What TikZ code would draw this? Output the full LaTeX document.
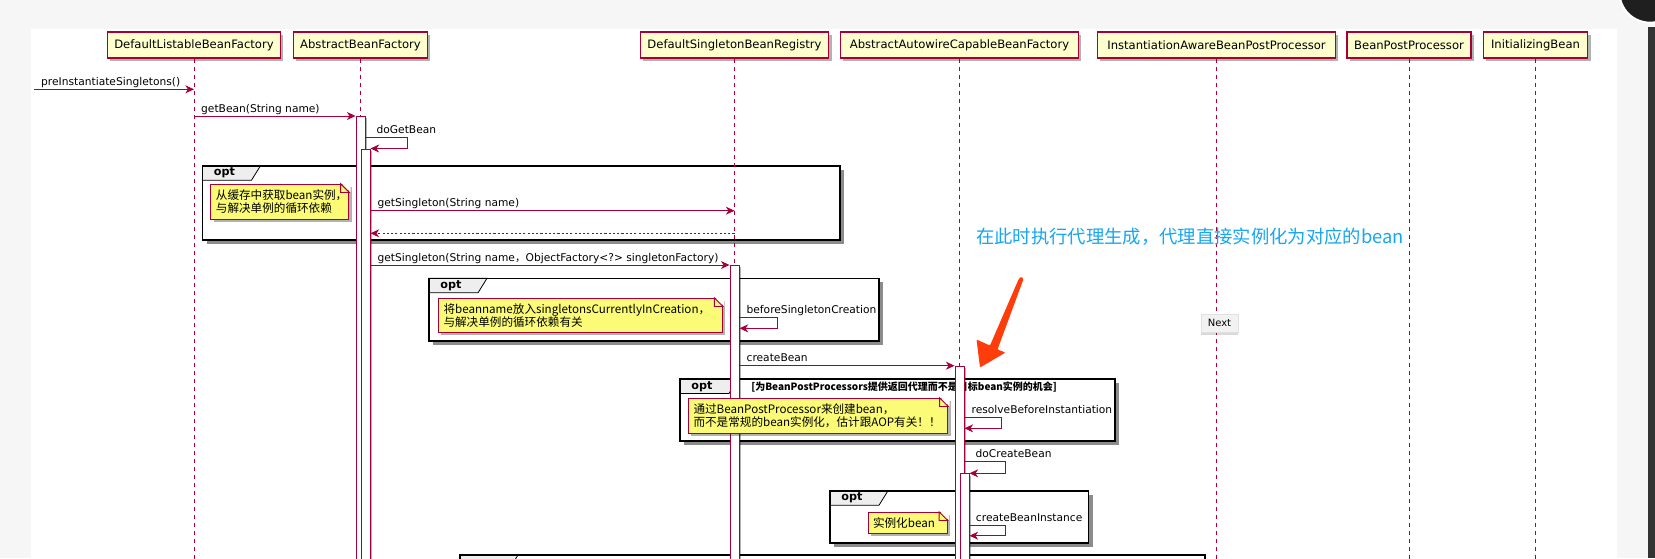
\documentclass[tikz,border=0pt]{standalone}
\usepackage{fontspec}
\setmainfont{DejaVu Sans}
\newfontfamily\cjk{Noto Sans CJK SC}
\usepackage{tikz}
\usetikzlibrary{arrows.meta, positioning, shadows, calc}

\definecolor{umlred}{HTML}{A80036}
\definecolor{partfill}{HTML}{FEFECE}
\definecolor{notefill}{HTML}{FBFB77}
\definecolor{tabgray}{HTML}{EEEEEE}
\definecolor{pagegray}{HTML}{F6F6F6}
\definecolor{hintblue}{HTML}{17A6F0}
\definecolor{arrowred}{HTML}{FF3D0A}

\tikzset{
  participant/.style={rectangle, draw=umlred, line width=0.9pt, fill=partfill,
                      minimum height=19.5pt, inner sep=0pt, font=\fontsize{8.7}{10}\selectfont,
                      drop shadow={shadow xshift=2.2pt, shadow yshift=-2.2pt, fill=black, opacity=0.3}},
  lifeline/.style={draw=umlred, line width=0.7pt, dash pattern=on 3.5pt off 2.5pt},
  bar/.style={rectangle, draw=umlred, fill=white, line width=0.7pt, minimum width=6.75pt,
              inner sep=0pt, anchor=north,
              drop shadow={shadow xshift=1.5pt, shadow yshift=-1.5pt, fill=black, opacity=0.3}},
  msg/.style={draw=umlred, line width=0.75pt, -{Stealth[length=6.5pt, width=6pt, inset=2pt]}},
  reply/.style={msg, dash pattern=on 1.6pt off 1.6pt},
  msglabel/.style={anchor=base west, inner sep=0pt, yshift=3pt, font=\fontsize{8}{9}\selectfont},
  frame/.style={draw=black, line width=1.2pt},
  tab/.style={draw=black, line width=0.6pt, fill=tabgray},
  optlabel/.style={inner sep=0pt, font=\bfseries\fontsize{8.4}{10}\selectfont},
  guard/.style={anchor=west, inner sep=0pt, font=\cjk\bfseries\fontsize{7.5}{9}\selectfont},
  note/.style={rectangle, draw=umlred, fill=notefill, line width=0.7pt, align=left,
               inner xsep=3.75pt, inner ysep=0pt, font=\cjk\fontsize{8.7}{10}\selectfont,
               drop shadow={shadow xshift=2.2pt, shadow yshift=-2.2pt, fill=black, opacity=0.3}},
  hint/.style={anchor=west, inner sep=0pt, text=hintblue, font=\cjk\fontsize{13.75}{16}\selectfont},
  nextbtn/.style={rectangle, draw=black!12, fill=black!5, minimum width=27.75pt, minimum height=14pt,
                  inner sep=0pt, font=\fontsize{7.5}{9}\selectfont,
                  drop shadow={shadow xshift=0pt, shadow yshift=-1.5pt, fill=black, opacity=0.15}}
}

% opt frame: name, x0, y0, x1, y1, label
\newcommand{\optframe}[6]{%
  \fill[black!45] (#2+4,#3+4) rectangle (#4+4,#5+4);
  \fill[white] (#2,#3) rectangle (#4,#5);
  \filldraw[tab] (#2,#3) -- (#2+58,#3) -- (#2+49,#3+14.5) -- (#2,#3+14.5) -- cycle;
  \draw[frame] (#2,#3) rectangle (#4,#5);
  \node[optlabel] (#1) at (#2+22,#3+7.5) {#6};
}
% folded corner of a note
\newcommand{\notefold}[1]{%
  \fill[white] ([xshift=-6.5pt, yshift=1pt]#1.north east) -- ([xshift=1pt, yshift=1pt]#1.north east)
    -- ([xshift=1pt, yshift=-6.5pt]#1.north east) -- cycle;
  \draw[umlred, line width=0.7pt] ([xshift=-6.5pt]#1.north east) -- ([xshift=-6.5pt, yshift=-6.5pt]#1.north east)
    -- ([yshift=-6.5pt]#1.north east) -- cycle;
}

\begin{document}
\begin{tikzpicture}[x=0.75pt, y=-0.75pt]
  \useasboundingbox (0,0) rectangle (1655,558);
  \clip (0,0) rectangle (1655,558);

  % Window
  \fill[pagegray] (0,0) rectangle (1655,558);
  \fill[white] (31,29) rectangle (1617,558);
  \fill[black!80] (1648,27) rectangle (1655,558);
  \filldraw[fill=black!88, draw=white, line width=1.5pt] (1650,-8) circle[radius=23pt];

  % Message heights
  \coordinate (entry) at (34,89.3);
  \coordinate (m2) at (0,116);
  \coordinate (m3a) at (0,137);
  \coordinate (m3b) at (0,148.5);
  \coordinate (m4) at (0,210.7);
  \coordinate (m5) at (0,233.3);
  \coordinate (m6) at (0,265);
  \coordinate (m7a) at (0,317.7);
  \coordinate (m7b) at (0,328.3);
  \coordinate (m8) at (0,365.7);
  \coordinate (m9a) at (0,417.7);
  \coordinate (m9b) at (0,428.3);
  \coordinate (m10a) at (0,461.7);
  \coordinate (m10b) at (0,473.3);
  \coordinate (m11a) at (0,525);
  \coordinate (m11b) at (0,535.7);
  \coordinate (bottom) at (0,560);

  % Frames
  \optframe{f1}{202.5}{165.7}{840}{240}{opt}
  \optframe{f2}{429}{278.3}{879}{340.7}{opt}
  \optframe{f3}{680}{379}{1115}{441}{opt}
  \optframe{f4}{830}{490.7}{1088.6}{542.7}{opt}
  \optframe{f5}{460}{555}{1205}{620}{}
  \node[guard] (g3) at (751,386.7) {[为BeanPostProcessors提供返回代理而不是目标bean实例的机会]};

  % Participants
  \node[participant, minimum width=129.75pt] (dlbf) at (194,45) {DefaultListableBeanFactory};
  \node[participant, minimum width=100.5pt] (abf) at (360.5,45) {AbstractBeanFactory};
  \node[participant, minimum width=141.4pt] (dsbr) at (734.5,45) {DefaultSingletonBeanRegistry};
  \node[participant, minimum width=178.5pt] (aacbf) at (959.5,45) {AbstractAutowireCapableBeanFactory};
  \node[participant, minimum width=178.5pt] (iabpp) at (1216.5,45) {InstantiationAwareBeanPostProcessor};
  \node[participant, minimum width=93pt] (bpp) at (1409,45) {BeanPostProcessor};
  \node[participant, minimum width=78.4pt] (ib) at (1535.5,45) {InitializingBean};

  % Lifelines
  \foreach \p in {dlbf,abf,dsbr,aacbf,iabpp,bpp,ib}
    \draw[lifeline] (\p.south) -- (\p |- bottom);

  % Activations
  \node[bar, minimum height=333pt] (abf1) at (abf |- m2) {};
  \node[bar, minimum height=308.6pt] (abf2) at ($(abf |- m3b)+(5,0)$) {};
  \node[bar, minimum height=221.25pt] (dsbr1) at (dsbr |- m6) {};
  \node[bar, minimum height=145.7pt] (aacbf1) at (aacbf |- m8) {};
  \node[bar, minimum height=65pt] (aacbf2) at ($(aacbf |- m10b)+(5,0)$) {};

  % Messages
  \draw[msg] (entry) node[msglabel, xshift=5pt] (l1) {preInstantiateSingletons()} -- (dlbf |- entry);
  \draw[msg] (dlbf |- m2) node[msglabel, xshift=5pt] (l2) {getBean(String name)} -- (abf1.west |- m2);
  \draw[msg] (abf1.east |- m3a) node[msglabel, xshift=8pt] (l3) {doGetBean} -- ++(42,0) |- (abf2.east |- m3b);
  \draw[msg] (abf2.east |- m4) node[msglabel, xshift=5pt] (l4) {getSingleton(String name)} -- (dsbr |- m4);
  \draw[reply] (dsbr |- m5) -- (abf2.east |- m5);
  \draw[msg] (abf2.east |- m6) node[msglabel, xshift=5pt] (l6) {getSingleton(String name{\cjk ，}ObjectFactory<?> singletonFactory)} -- (dsbr1.west |- m6);
  \draw[msg] (dsbr1.east |- m7a) node[msglabel, xshift=5pt] (l7) {beforeSingletonCreation} -- ++(38,0) |- (dsbr1.east |- m7b);
  \draw[msg] (dsbr1.east |- m8) node[msglabel, xshift=5pt] (l8) {createBean} -- (aacbf1.west |- m8);
  \draw[msg] (aacbf1.east |- m9a) node[msglabel, xshift=5pt] (l9) {resolveBeforeInstantiation} -- ++(37,0) |- (aacbf1.east |- m9b);
  \draw[msg] (aacbf1.east |- m10a) node[msglabel, xshift=8pt] (l10) {doCreateBean} -- ++(41.4,0) |- (aacbf2.east |- m10b);
  \draw[msg] (aacbf2.east |- m11a) node[msglabel, xshift=4.5pt] (l11) {createBeanInstance} -- ++(36.4,0) |- (aacbf2.east |- m11b);

  % Notes
  \node[note, text width=96pt, minimum height=26.25pt] (n1) at (279.9,201.8) {从缓存中获取bean实例，\\与解决单例的循环依赖};
  \notefold{n1}
  \node[note, text width=205.5pt, minimum height=25.5pt] (n2) at (580.5,315.3) {将beanname放入singletonsCurrentlyInCreation，\\与解决单例的循环依赖有关};
  \notefold{n2}
  \node[note, text width=187pt, minimum height=26.25pt] (n3) at (818.2,415.8) {通过BeanPostProcessor来创建bean，\\而不是常规的bean实例化，估计跟AOP有关！！};
  \notefold{n3}
  \node[note, text width=52pt, minimum height=15.75pt] (n4) at (907.7,522.8) {实例化bean};
  \notefold{n4}

  % Annotation
  \node[hint] (hint) at (976,237) {在此时执行代理生成，代理直接实例化为对应的bean};
  \fill[arrowred, rounded corners=0.8pt] (1018.5,279.5) -- (1021,276.5) -- (1023.5,279) -- (997.5,349.5)
    -- (1005.5,352.5) -- (980,367.5) -- (976.5,339.5) -- (990,345.5) -- cycle;

  % Next button
  \node[nextbtn] (next) at (1219.5,323.3) {Next};
\end{tikzpicture}
\end{document}
